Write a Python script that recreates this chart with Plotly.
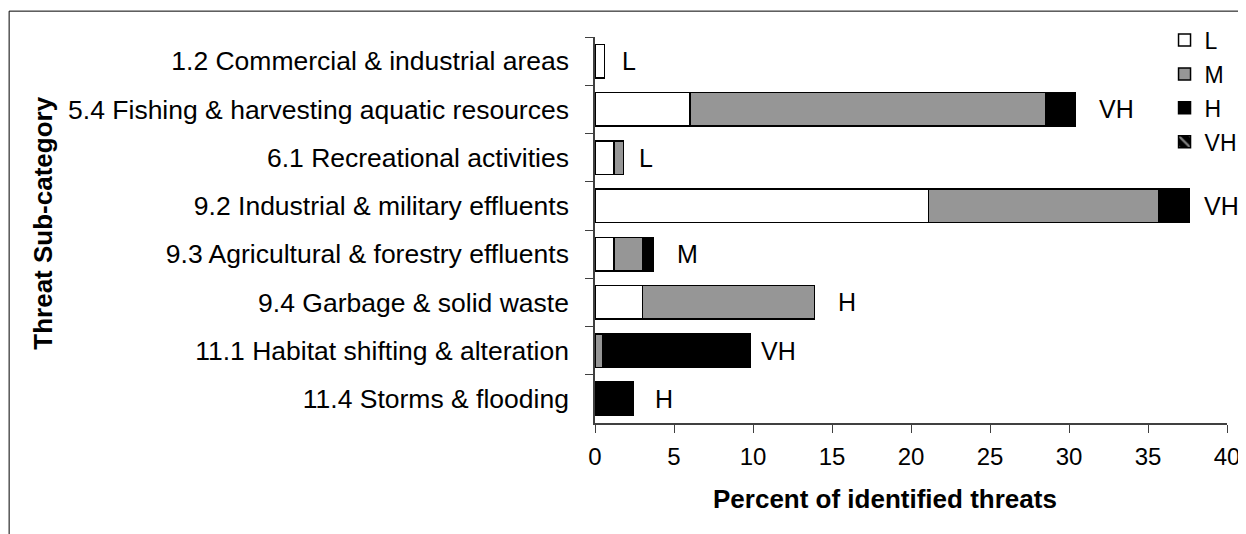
import plotly.graph_objects as go

# threat sub-categories (top to bottom) and percent of identified threats per impact level
categories = [
    "1.2 Commercial & industrial areas",
    "5.4 Fishing & harvesting aquatic resources",
    "6.1 Recreational activities",
    "9.2 Industrial & military effluents",
    "9.3 Agricultural & forestry effluents",
    "9.4 Garbage & solid waste",
    "11.1 Habitat shifting & alteration",
    "11.4 Storms & flooding",
]
low = [0.6, 6.0, 1.2, 21.1, 1.2, 3.0, None, None]
medium = [None, 22.5, 0.6, 14.6, 1.8, 10.9, 0.5, None]
high = [None, 1.9, None, 1.9, 0.7, None, 9.3, 2.4]
very_high = [None] * 8
overall_rank = ["L", "VH", "L", "VH", "M", "H", "VH", "H"]

# pixel nudge of each rank label from its bar end
label_shift = [25, 41, 23, 32, 34, 32, 29, 31]

FONT = "Liberation Sans, Arial, sans-serif"

fig = go.Figure()
series = [("L", low, "white"), ("M", medium, "#969696"), ("H", high, "black")]
for name, vals, col in series:
    fig.add_trace(go.Bar(
        y=categories, x=vals, name=name, orientation="h",
        marker=dict(color=col, line=dict(color="black", width=1.5)),
        legendgroup=name,
    ))
fig.add_trace(go.Bar(
    y=categories, x=very_high, name="VH", orientation="h",
    marker=dict(color="black", line=dict(color="black", width=1.5),
                pattern=dict(shape="\\", fgcolor="white", bgcolor="black",
                             solidity=0.3, size=12)),
    legendgroup="VH",
))

# rank label to the right of each stacked bar
totals = [sum(v for v in (a, b, c) if v) for a, b, c in zip(low, medium, high)]
for cat, tot, lab, sh in zip(categories, totals, overall_rank, label_shift):
    fig.add_annotation(x=tot, y=cat, text=lab, showarrow=False, xanchor="center",
                       xshift=sh, font=dict(size=25, color="black", family=FONT))

# axis titles
fig.add_annotation(text="<b>Percent of identified threats</b>", xref="paper", yref="paper",
                   x=0.459, y=-0.196, showarrow=False, xanchor="center", yanchor="middle",
                   font=dict(size=26, family=FONT, color="black"))
fig.add_annotation(text="<b>Threat Sub-category</b>", xref="paper", yref="paper",
                   x=-0.873, y=0.517, showarrow=False, textangle=-90,
                   xanchor="center", yanchor="middle",
                   font=dict(size=26, family=FONT, color="black"))

# outer frame of the chart
fig.add_shape(type="rect", xref="paper", yref="paper", x0=-0.927, x1=1.1, y0=-0.6, y1=1.067,
              line=dict(color="black", width=1), layer="below")

fig.update_layout(
    width=1246, height=534,
    margin=dict(l=587, r=27, t=28, b=119),
    paper_bgcolor="white", plot_bgcolor="white",
    barmode="stack", bargap=0.31,
    font=dict(family=FONT, size=24, color="black"),
    showlegend=True,
    legend=dict(x=1.023, y=1.045, xanchor="right", yanchor="top",
                tracegroupgap=1, traceorder="grouped",
                itemwidth=30, font=dict(size=23), bgcolor="rgba(0,0,0,0)"),
    xaxis=dict(range=[0, 40], dtick=5, tick0=0, ticks="outside", ticklen=8,
               tickcolor="#404040", showline=True, linecolor="#404040", linewidth=1.5,
               showgrid=False, zeroline=False, ticklabelstandoff=3,
               tickfont=dict(size=24)),
    yaxis=dict(autorange="reversed", ticks="outside", ticklen=8, tickson="boundaries",
               tickcolor="#404040", showline=True, linecolor="#404040", linewidth=1.5,
               showgrid=False, ticklabelstandoff=19, tickfont=dict(size=26.5)),
)

fig.write_html("out.html")
